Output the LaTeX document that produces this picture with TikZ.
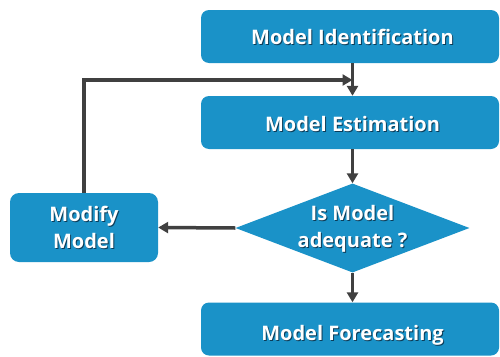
\documentclass[tikz,border=0pt]{standalone}
\usepackage{fontspec}
\setsansfont{Open Sans}
\usetikzlibrary{shapes.geometric,arrows.meta}
\definecolor{boxblue}{RGB}{26,146,200}
\definecolor{arrowgray}{RGB}{64,64,64}
\definecolor{shadowblue}{RGB}{12,60,88}
% white label text with a small dark drop shadow
\newcommand\shadowed[1]{\makebox[0pt][l]{\hspace{1pt}\raisebox{-1pt}{\textcolor{shadowblue}{#1}}}#1}

\begin{document}
\begin{tikzpicture}[x=1pt,y=-1pt,
  stepbox/.style={fill=boxblue, rounded corners=8pt, minimum width=298pt,
    minimum height=53pt, inner sep=0pt},
  sidebox/.style={fill=boxblue, rounded corners=9pt, minimum width=148pt,
    minimum height=69pt, inner sep=0pt},
  decision/.style={diamond, fill=boxblue, minimum width=234pt,
    minimum height=89pt, inner sep=0pt},
  boxtext/.style={text=white, font=\sffamily\bfseries\fontsize{20pt}{27pt}\selectfont,
    align=center, inner sep=0pt},
  conn/.style={draw=arrowgray, line width=3.5pt,
    -{Triangle[length=10pt,width=11pt]}}]
\useasboundingbox (0,0) rectangle (500,356);
\fill[white] (0,0) rectangle (500,356);

% process boxes
\node[stepbox] (id)  at (350,36.5) {};
\node[stepbox] (est) at (350,122.5) {};
\node[stepbox] (fc)  at (350,329) {};
\node[sidebox] (mod) at (84,227.5) {};
\node[decision] (adq) at (352.5,228) {};

% labels
\node[boxtext] (idT)  at (352.5,37)    {\shadowed{Model Identification}};
\node[boxtext] (estT) at (352.5,124.5) {\shadowed{Model Estimation}};
\node[boxtext] (fcT)  at (352.5,336)   {\shadowed{Model Forecasting}};
\node[boxtext] (modT) at (84,228)      {\shadowed{Modify}\\\shadowed{Model}};
\node[boxtext] (adqT) at (352.5,229.5) {\shadowed{Is Model}\\\shadowed{adequate ?}};

% connectors
\coordinate (fb) at (352.5,80);
\draw[conn] (idT |- id.south) -- (idT |- est.north);
\draw[conn] (estT |- est.south) -- (adq.north);
\draw[conn] (adq.west) -- (mod.east);
\draw[conn] (adq.south) -- (adq |- fc.north);
\draw[conn] (mod.north) |- (fb);
\end{tikzpicture}
\end{document}
